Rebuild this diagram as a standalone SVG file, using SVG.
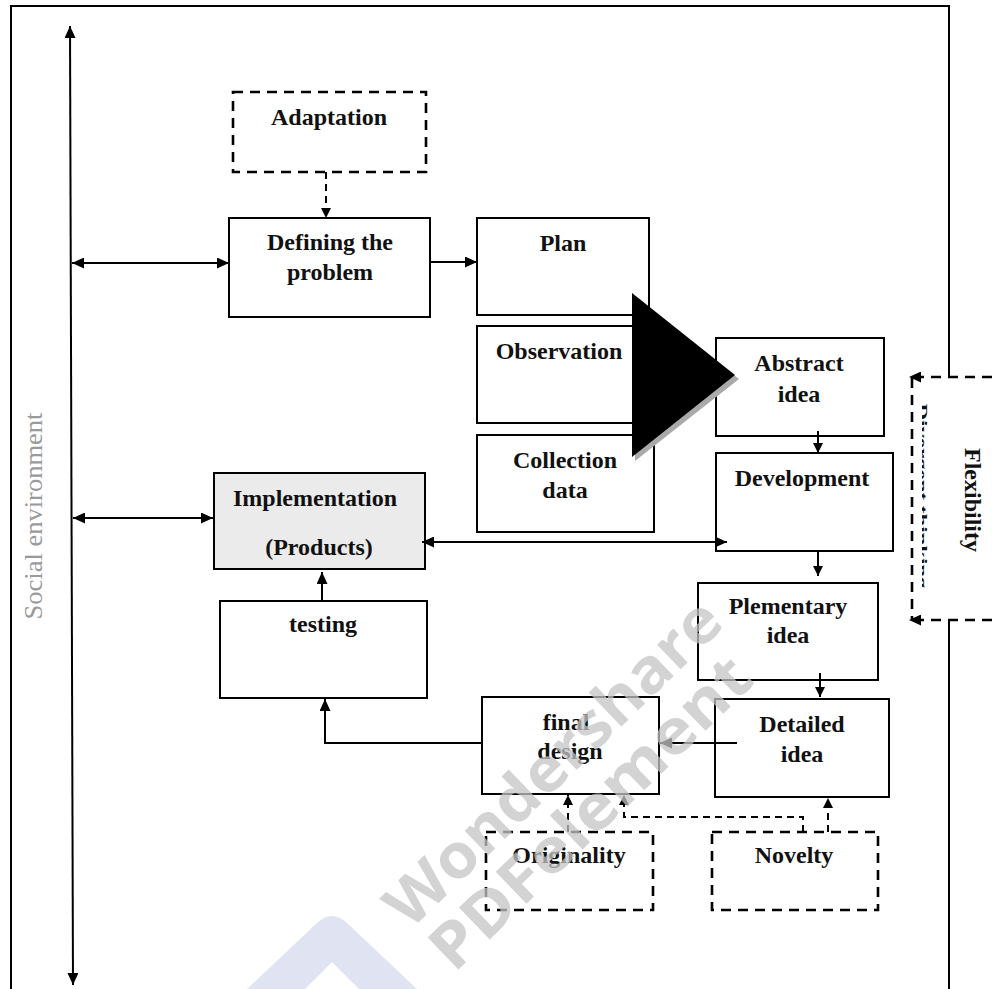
<svg xmlns="http://www.w3.org/2000/svg" width="992" height="989" viewBox="0 0 992 989">
<defs>
<style>
.box{fill:#fff;stroke:#000;stroke-width:2}
.dbox{fill:#fff;stroke:#000;stroke-width:2.6;stroke-dasharray:10 7}
.lbl{font-family:"Liberation Serif","Times New Roman",serif;font-weight:bold;font-size:24px;fill:#111;text-anchor:middle}
.ln{fill:none;stroke:#000;stroke-width:2}
.dl{fill:none;stroke:#000;stroke-width:2;stroke-dasharray:7 5}
.wm{font-family:"Open Sans","Liberation Sans",sans-serif;font-weight:bold;font-size:62px;fill:#c4c4c4;fill-opacity:0.75}
</style>
<marker id="ah" viewBox="0 0 12 11" refX="12" refY="5.5" markerWidth="12" markerHeight="11" markerUnits="userSpaceOnUse" orient="auto-start-reverse">
<path d="M0,0 L12,5.5 L0,11 z" fill="#000"/>
</marker>
<marker id="as" viewBox="0 0 10 10" refX="10" refY="5" markerWidth="10" markerHeight="10" markerUnits="userSpaceOnUse" orient="auto-start-reverse">
<path d="M0,0 L10,5 L0,10 z" fill="#000"/>
</marker>
<clipPath id="clipDiv"><rect x="922" y="395" width="8" height="200"/></clipPath>
</defs>
<rect width="992" height="989" fill="#fff"/>

<!-- frame -->
<path d="M11,989 V6 H949 V377 M949,620 V989" fill="none" stroke="#000" stroke-width="2"/>

<!-- logo watermark chevron -->
<path d="M247,989 L318,922 Q332,910 346,922 L417,989 L359,989 L332,962 L305,989 Z" fill="#e0e3f1"/>

<!-- social environment label -->
<text transform="translate(42,516) rotate(-90)" font-family="Liberation Serif,Times New Roman,serif" font-size="26" fill="#9a9a9a" text-anchor="middle" textLength="207" lengthAdjust="spacingAndGlyphs">Social environment</text>

<g id="adaptation">
<rect class="dbox" x="233" y="92" width="193" height="80"/>
<text class="lbl" x="329" y="125">Adaptation</text>
</g>
<g id="defining">
<rect class="box" x="229" y="218" width="201" height="99"/>
<text class="lbl" x="330" y="250">Defining the</text>
<text class="lbl" x="330" y="280">problem</text>
</g>
<g id="plan">
<rect class="box" x="477" y="218" width="172" height="97"/>
<text class="lbl" x="563" y="251">Plan</text>
</g>
<g id="observation">
<rect class="box" x="477" y="326" width="174" height="97"/>
<text class="lbl" x="559" y="359">Observation</text>
</g>
<g id="collection">
<rect class="box" x="477" y="435" width="177" height="97"/>
<text class="lbl" x="565" y="468">Collection</text>
<text class="lbl" x="565" y="498">data</text>
</g>
<g id="abstract">
<rect class="box" x="716" y="338" width="168" height="98"/>
<text class="lbl" x="799" y="371">Abstract</text>
<text class="lbl" x="799" y="402">idea</text>
</g>
<g id="development">
<rect class="box" x="716" y="453" width="177" height="98"/>
<text class="lbl" x="802" y="486">Development</text>
</g>
<g id="implementation">
<rect x="214" y="473" width="211" height="96" fill="#ebebeb" stroke="#000" stroke-width="2"/>
<text class="lbl" x="315" y="506">Implementation</text>
<text class="lbl" x="319" y="555">(Products)</text>
</g>
<g id="testing">
<rect class="box" x="220" y="601" width="207" height="97"/>
<text class="lbl" x="323" y="632">testing</text>
</g>
<g id="plementary">
<rect class="box" x="698" y="583" width="180" height="97"/>
<text class="lbl" x="788" y="614">Plementary</text>
<text class="lbl" x="788" y="643">idea</text>
</g>
<g id="detailed">
<rect class="box" x="715" y="699" width="174" height="98"/>
<text class="lbl" x="802" y="732">Detailed</text>
<text class="lbl" x="802" y="762">idea</text>
</g>
<g id="final">
<rect class="box" x="482" y="697" width="177" height="97"/>
<text class="lbl" x="566" y="730">final</text>
<text class="lbl" x="570" y="759">design</text>
</g>
<g id="originality">
<rect class="dbox" x="486" y="832" width="167" height="78"/>
<text class="lbl" x="569" y="863">Originality</text>
</g>
<g id="novelty">
<rect class="dbox" x="712" y="832" width="166" height="78"/>
<text class="lbl" x="794" y="863">Novelty</text>
</g>

<g id="flexibility">
<text transform="translate(965,500) rotate(90)" class="lbl">Flexibility</text>
<g clip-path="url(#clipDiv)">
<text transform="translate(917,496) rotate(90)" font-family="Liberation Serif,Times New Roman,serif" font-weight="bold" font-size="14" fill="#111" text-anchor="middle" textLength="185" lengthAdjust="spacingAndGlyphs">Divergent thinking</text>
</g>
</g>

<!-- big black triangle -->
<g id="triangle">
<polygon points="635,297 739,379 635,461" fill="#aaa"/>
<polygon points="632,293 735,375 632,457" fill="#000"/>
</g>

<g id="connectors">
<line class="ln" x1="70" y1="26" x2="73" y2="985" marker-start="url(#ah)" marker-end="url(#ah)"/>
<line class="ln" x1="72" y1="263" x2="229" y2="263" marker-start="url(#ah)" marker-end="url(#ah)"/>
<line class="ln" x1="430" y1="262" x2="477" y2="262" marker-end="url(#ah)"/>
<line class="dl" x1="326" y1="172" x2="326" y2="218" marker-end="url(#as)"/>
<line class="ln" x1="73" y1="518" x2="213" y2="518" marker-start="url(#ah)" marker-end="url(#ah)"/>
<line class="ln" x1="422" y1="542" x2="727" y2="542" marker-start="url(#ah)" marker-end="url(#ah)"/>
<line class="ln" x1="818" y1="431" x2="818" y2="453" marker-end="url(#as)"/>
<line class="ln" x1="818" y1="551" x2="818" y2="576" marker-end="url(#as)"/>
<line class="ln" x1="820" y1="673" x2="820" y2="697" marker-end="url(#as)"/>
<line class="ln" x1="737" y1="743" x2="660" y2="743" marker-end="url(#ah)"/>
<path class="ln" d="M482,743 H325 V699" marker-end="url(#ah)"/>
<line class="ln" x1="322" y1="601" x2="322" y2="572" marker-end="url(#ah)"/>
<line class="dl" x1="568" y1="832" x2="568" y2="795" marker-end="url(#as)"/>
<path class="dl" d="M803,832 V817 H624 V795" marker-end="url(#as)"/>
<line class="dl" x1="828" y1="832" x2="828" y2="798" marker-end="url(#as)"/>
<line x1="992" y1="377" x2="909" y2="377" stroke="#000" stroke-width="2.6" stroke-dasharray="10 7" marker-end="url(#ah)"/>
<line x1="912" y1="378" x2="912" y2="620" stroke="#000" stroke-width="2.6" stroke-dasharray="10 7"/>
<line x1="992" y1="620" x2="909" y2="620" stroke="#000" stroke-width="2.6" stroke-dasharray="10 7" marker-end="url(#ah)"/>
</g>

<!-- document watermark -->
<g id="watermark">
<text class="wm" transform="translate(568,778) rotate(-44)" text-anchor="middle" textLength="440" lengthAdjust="spacingAndGlyphs">Wondershare</text>
<text class="wm" transform="translate(605,828) rotate(-44)" text-anchor="middle" textLength="420" lengthAdjust="spacingAndGlyphs">PDFelement</text>
</g>
</svg>
